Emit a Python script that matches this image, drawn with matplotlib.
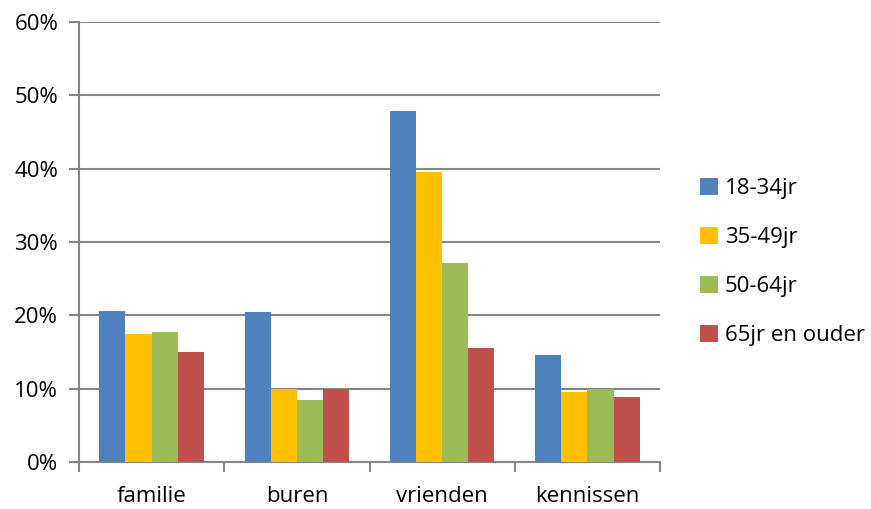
import matplotlib
matplotlib.use('Agg')
import matplotlib.pyplot as plt
import numpy as np

categories = ['familie', 'buren', 'vrienden', 'kennissen']
series = ['18-34jr', '35-49jr', '50-64jr', '65jr en ouder']
v_18_34 = [20.6, 20.5, 47.9, 14.6]
v_35_49 = [17.5, 9.9, 39.6, 9.6]
v_50_64 = [17.7, 8.4, 27.2, 10.0]
v_65 = [15.0, 10.0, 15.5, 8.8]
colors = ['#4F81BD', '#FFC000', '#9BBB59', '#C0504D']

plt.rcParams['font.family'] = ['Open Sans', 'DejaVu Sans']

fig = plt.figure(figsize=(8.71, 5.09), dpi=100)
ax = fig.add_axes([79 / 871, 47 / 509, 581 / 871, 440 / 509])

x = np.arange(len(categories))
w = 0.18
for i, vals in enumerate([v_18_34, v_35_49, v_50_64, v_65]):
	ax.bar(x + (i - 1.5) * w, vals, w, color=colors[i], label=series[i], zorder=3)

grid_c = '#868686'
ax.set_ylim(0, 60)
ax.set_xlim(-0.5, 3.5)
ax.set_yticks(range(0, 61, 10))
ax.set_yticklabels([str(t) + '%' for t in range(0, 61, 10)])
ax.yaxis.grid(True, color=grid_c, linewidth=1.5, zorder=0)
ax.set_xticks(x)
ax.set_xticklabels(categories)
ax.set_xticks(np.arange(-0.5, 4, 1), minor=True)
ax.tick_params(axis='x', which='major', length=0, pad=17, labelsize=16)
ax.tick_params(axis='x', which='minor', length=7, color=grid_c, width=1.5)
ax.tick_params(axis='y', length=7, color=grid_c, width=1.5, labelsize=16, pad=8)
for s in ['top', 'right']:
	ax.spines[s].set_visible(False)
for s in ['left', 'bottom']:
	ax.spines[s].set_color(grid_c)
	ax.spines[s].set_linewidth(1.5)

ax.legend(loc='center left', bbox_to_anchor=(1.035, 0.455), frameon=False, fontsize=16,
	handlelength=0.8, handleheight=0.8, handletextpad=0.3, labelspacing=1.25)

plt.savefig('out.png', dpi=100)
